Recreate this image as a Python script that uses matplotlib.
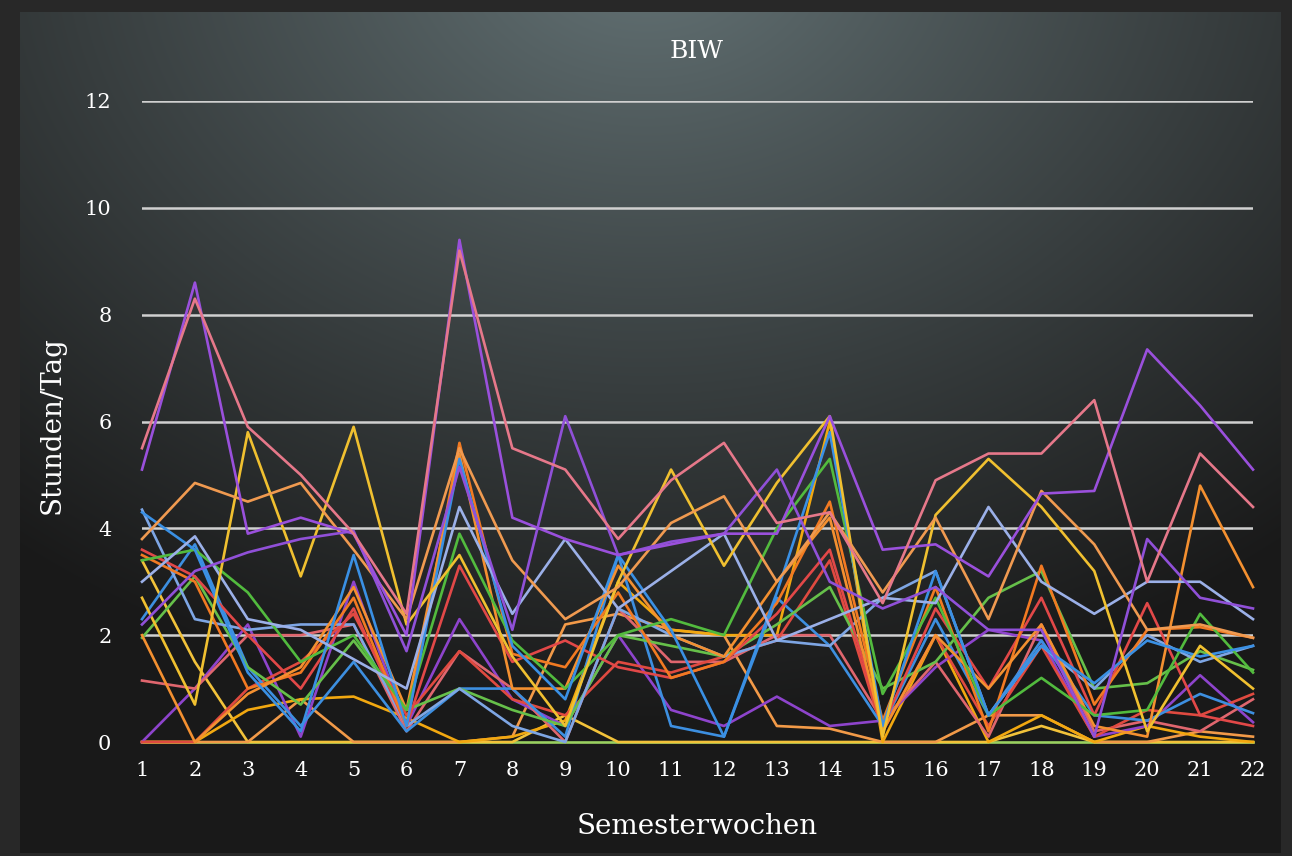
import numpy as np
import matplotlib
matplotlib.use('Agg')
import matplotlib.pyplot as plt

weeks = list(range(1, 23))

# Stunden/Tag pro Semesterwoche, one list per student
pink_hi = [5.5, 8.3, 5.9, 5.0, 3.9, 2.4, 9.2, 5.5, 5.1, 3.8, 4.9, 5.6, 4.1, 4.3, 2.6, 4.9, 5.4, 5.4, 6.4, 3.0, 5.4, 4.4]
purple_hi = [5.1, 8.6, 3.9, 4.2, 3.9, 2.0, 9.4, 4.2, 3.8, 3.5, 3.7, 3.9, 3.9, 6.1, 3.6, 3.7, 3.1, 4.65, 4.7, 7.35, 6.3, 5.1]
purple_mid = [2.2, 3.2, 3.55, 3.8, 3.95, 1.7, 5.15, 2.1, 6.1, 3.5, 3.75, 3.9, 5.1, 3.0, 2.5, 2.9, 2.1, 2.1, 0.1, 3.8, 2.7, 2.5]
orange_hi = [3.8, 4.85, 4.5, 4.85, 3.6, 2.3, 5.5, 3.4, 2.3, 2.9, 4.1, 4.6, 3.0, 4.3, 2.8, 4.2, 2.3, 4.7, 3.7, 2.1, 2.2, 1.95]
yellow_hi = [2.7, 0.7, 5.8, 3.1, 5.9, 2.2, 3.5, 1.6, 0.3, 3.0, 5.1, 3.3, 4.85, 6.1, 0.1, 4.25, 5.3, 4.4, 3.2, 0.2, 1.8, 1.0]
lightblue = [3.0, 3.85, 2.3, 2.1, 1.55, 1.0, 4.4, 2.4, 3.8, 2.5, 3.2, 3.9, 1.9, 2.3, 2.7, 2.6, 4.4, 3.0, 2.4, 3.0, 3.0, 2.3]
lightblue2 = [4.35, 2.3, 2.1, 2.2, 2.2, 0.3, 1.0, 0.3, 0.0, 2.5, 2.0, 1.6, 1.9, 1.8, 2.7, 3.2, 0.5, 1.8, 1.0, 2.0, 1.5, 1.8]
blue = [4.3, 3.6, 1.3, 0.2, 3.5, 0.3, 5.3, 1.8, 0.8, 3.5, 2.1, 0.1, 2.8, 5.8, 0.3, 3.2, 0.5, 1.8, 1.1, 1.9, 1.6, 1.8]
blue2 = [2.3, 3.7, 1.4, 0.3, 1.5, 0.2, 1.0, 1.0, 0.1, 3.5, 0.3, 0.1, 2.7, 1.8, 0.3, 2.3, 0.5, 1.9, 0.5, 0.4, 0.9, 0.54]
green = [3.4, 3.6, 2.8, 1.5, 2.0, 0.6, 3.9, 1.9, 1.0, 2.0, 2.3, 2.0, 4.0, 5.3, 0.9, 2.7, 0.5, 1.2, 0.5, 0.6, 2.4, 1.3]
green2 = [1.95, 3.1, 1.4, 0.7, 1.9, 0.6, 1.0, 0.6, 0.3, 2.0, 1.8, 1.6, 2.2, 2.9, 1.0, 1.5, 2.7, 3.2, 1.0, 1.1, 1.7, 1.35]
red = [3.6, 3.1, 2.0, 1.0, 2.5, 0.3, 3.3, 1.5, 1.9, 1.4, 1.2, 1.5, 2.4, 3.6, 0.3, 2.5, 1.0, 2.7, 0.5, 2.6, 0.5, 0.3]
orange = [3.5, 3.0, 1.0, 1.3, 2.7, 0.3, 5.6, 1.65, 1.4, 2.8, 1.2, 1.5, 2.6, 4.5, 0.4, 2.9, 0.2, 3.3, 0.7, 2.1, 2.15, 1.95]
gold = [0.0, 0.0, 0.6, 0.8, 0.85, 0.45, 0.0, 0.1, 0.4, 3.0, 2.1, 2.0, 2.0, 6.0, 0.0, 2.0, 0.0, 0.5, 0.0, 0.3, 0.1, 0.0]
pink_lo = [1.15, 1.0, 2.0, 2.0, 2.2, 0.2, 1.7, 1.0, 0.0, 2.5, 1.5, 1.5, 2.0, 2.0, 0.4, 1.5, 0.1, 2.2, 0.2, 0.4, 0.2, 0.8]
purple_lo = [0.0, 1.0, 2.2, 0.1, 3.0, 0.3, 2.3, 0.8, 0.3, 2.0, 0.6, 0.3, 0.85, 0.3, 0.4, 1.4, 2.1, 1.9, 0.1, 0.3, 1.25, 0.37]
orange_lo = [0.0, 0.0, 0.0, 0.8, 0.0, 0.0, 0.0, 0.1, 2.2, 2.4, 2.1, 2.0, 0.3, 0.25, 0.0, 0.0, 0.5, 0.5, 0.0, 0.0, 0.2, 0.1]
yellow_lo = [3.4, 1.5, 0.0, 0.0, 0.0, 0.0, 0.0, 0.0, 0.5, 0.0, 0.0, 0.0, 0.0, 0.0, 0.0, 0.0, 0.0, 0.3, 0.0, 0.0, 0.0, 0.0]
orange_mid = [2.0, 0.0, 0.9, 1.4, 2.9, 0.6, 5.4, 1.0, 1.0, 3.3, 2.0, 1.6, 3.0, 4.2, 0.2, 2.0, 1.0, 2.2, 0.3, 0.1, 4.8, 2.9]
red_lo = [0.0, 0.0, 1.0, 1.5, 2.4, 0.5, 1.7, 0.8, 0.5, 1.5, 1.3, 1.6, 1.9, 3.4, 0.2, 2.0, 0.3, 1.8, 0.1, 0.6, 0.5, 0.9]
lime_zero = [0.0] * 22

series = [
    (lime_zero, '#9ad060'), (yellow_lo, '#f2c23a'), (orange_lo, '#f29a48'),
    (gold, '#f2a810'), (purple_lo, '#8e44cc'), (pink_lo, '#e0666e'),
    (red_lo, '#e04a40'), (blue2, '#3d8fe0'), (green2, '#66c04a'),
    (lightblue2, '#7ea6e4'), (red, '#e24848'), (orange, '#f27a22'),
    (orange_mid, '#f49030'), (green, '#52bb3e'), (blue, '#3a90e4'),
    (lightblue, '#9bb0e8'), (yellow_hi, '#f0c030'), (orange_hi, '#f09a50'),
    (purple_mid, '#9050d8'), (purple_hi, '#9a50dc'), (pink_hi, '#e6788a'),
]

W, H = 1292, 856
fig = plt.figure(figsize=(W / 100, H / 100), dpi=100)

# background: dark frame with a lit grey panel
bg = fig.add_axes([0, 0, 1, 1])
yy, xx = np.mgrid[0:H, 0:W]
d = np.sqrt(((xx - 646) / 1000.0) ** 2 + ((yy + 60) / 780.0) ** 2)
t = np.clip(d, 0, 1) ** 0.9
top = np.array([0.40, 0.46, 0.47])
low = np.array([0.10, 0.10, 0.10])
img = top[None, None, :] * (1 - t[..., None]) + low[None, None, :] * t[..., None]
frame = (xx < 20) | (xx > 1280) | (yy < 12) | (yy > 852)
img[frame] = [0.16, 0.16, 0.16]
bg.imshow(img, aspect='auto', extent=[0, W, H, 0])
bg.axis('off')

ax = fig.add_axes([142 / W, 1 - 742 / H, 1111 / W, 641 / H])
ax.set_facecolor('none')
ax.set_xlim(1, 22)
ax.set_ylim(0, 12)
for v in range(2, 13, 2):
    ax.axhline(v, color='#d0d0d0', lw=1.8, zorder=1)

for vals, col in series:
    ax.plot(weeks, vals, color=col, lw=1.9, clip_on=False, zorder=3)

for s in ax.spines.values():
    s.set_visible(False)
ax.set_xticks(weeks)
ax.set_yticks(range(0, 13, 2))
ax.tick_params(length=0, colors='white', labelsize=15, pad=14)
ax.tick_params(axis='y', pad=22)
for lab in ax.get_xticklabels() + ax.get_yticklabels():
    lab.set_family('DejaVu Serif')

fig.text(697 / W, 1 - 52 / H, 'BIW', color='white', fontsize=18,
         family='DejaVu Serif', ha='center', va='center')
fig.text(697 / W, 1 - 826 / H, 'Semesterwochen', color='white', fontsize=20,
         family='DejaVu Serif', ha='center', va='center')
fig.text(52 / W, 1 - 425 / H, 'Stunden/Tag', color='white', fontsize=20,
         family='DejaVu Serif', ha='center', va='center', rotation=90)

fig.savefig('out.png', dpi=100)
